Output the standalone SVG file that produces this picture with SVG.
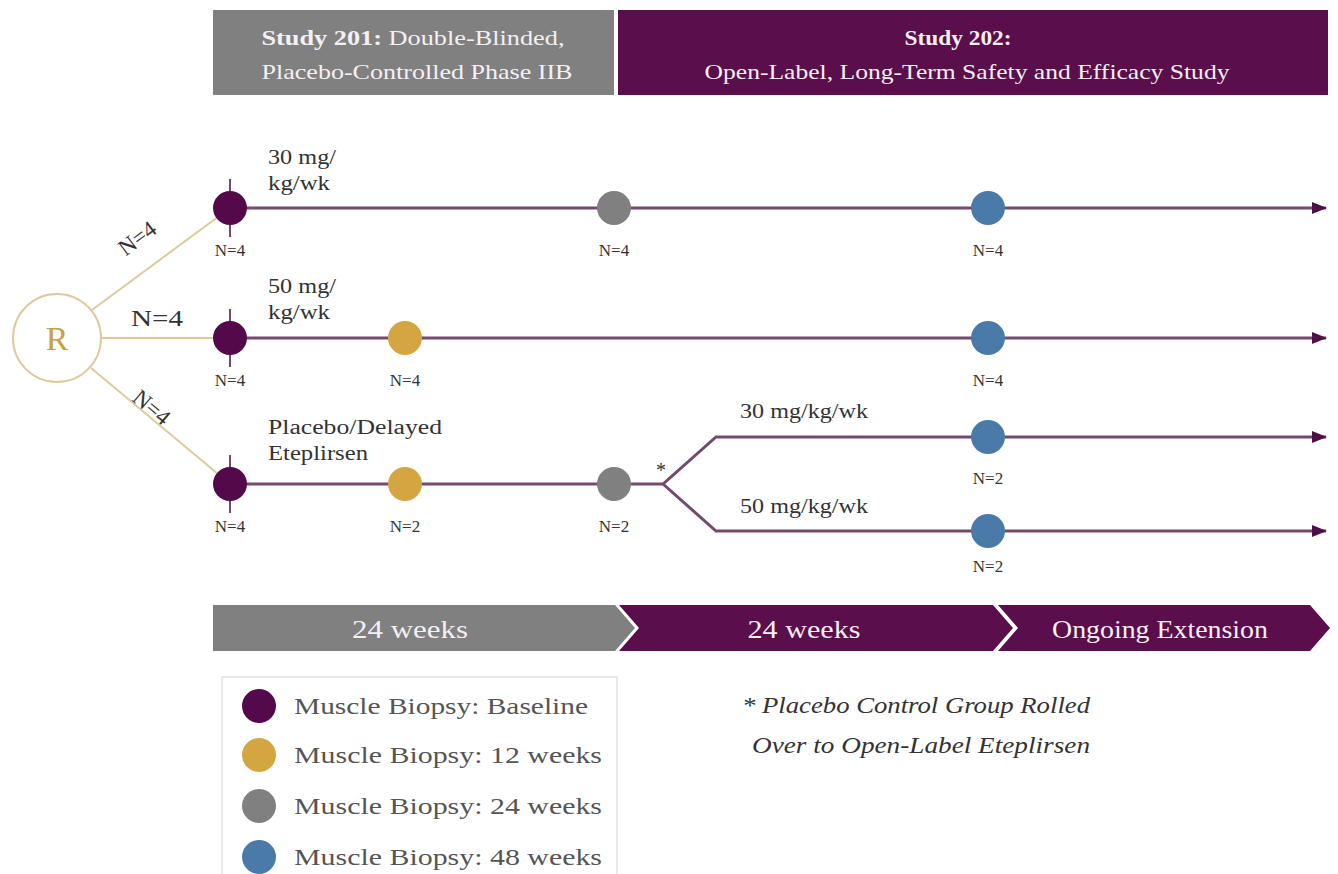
<svg xmlns="http://www.w3.org/2000/svg" width="1338" height="874" viewBox="0 0 1338 874">
<defs>
<marker id="arr" markerUnits="userSpaceOnUse" markerWidth="16" markerHeight="14" refX="14" refY="7" orient="auto">
<path d="M0,1 L15,7 L0,13 Z" fill="#4e1045"/>
</marker>
<style>
text{font-family:"Liberation Serif","Times New Roman",serif;}
.hdr{fill:#f4f0f4;font-size:22px;text-anchor:middle;}
.nl{fill:#333;font-size:17px;text-anchor:middle;}
.lbl{fill:#333;font-size:20px;}
.dn{fill:#333;font-size:23px;text-anchor:middle;}
.tl{fill:none;stroke:#74496e;stroke-width:3;}
.gold{stroke:#dccb9f;stroke-width:2;fill:none;}
.tick{stroke:#74496e;stroke-width:2;}
.base{fill:#54094a;}
.w12{fill:#d4a642;}
.w24{fill:#808080;}
.w48{fill:#4a7aa8;}
.ban{fill:#f5eef5;font-size:25px;text-anchor:middle;}
.leg{fill:#555;font-size:24px;}
.fn{fill:#333;font-size:23px;font-style:italic;}
</style>
</defs>
<rect width="1338" height="874" fill="#ffffff"/>

<g id="header201">
<rect x="213" y="10" width="401" height="85" fill="#808080"/>
<text class="hdr" x="413" y="45" textLength="303" lengthAdjust="spacingAndGlyphs"><tspan font-weight="bold">Study 201:</tspan> Double-Blinded,</text>
<text class="hdr" x="417" y="79" textLength="311" lengthAdjust="spacingAndGlyphs">Placebo-Controlled Phase IIB</text>
</g>
<g id="header202">
<rect x="618" y="10" width="710" height="85" fill="#5a0e4b"/>
<text class="hdr" x="958" y="45" font-weight="bold" textLength="107" lengthAdjust="spacingAndGlyphs">Study 202:</text>
<text class="hdr" x="967" y="79" textLength="525" lengthAdjust="spacingAndGlyphs">Open-Label, Long-Term Safety and Efficacy Study</text>
</g>

<g id="connectors">
<line class="gold" x1="92" y1="310" x2="230" y2="208"/>
<line class="gold" x1="102" y1="338" x2="230" y2="338"/>
<line class="gold" x1="91" y1="368" x2="230" y2="484"/>
<line class="tl" x1="230" y1="208" x2="1326" y2="208" marker-end="url(#arr)"/>
<line class="tl" x1="230" y1="338" x2="1326" y2="338" marker-end="url(#arr)"/>
<path class="tl" d="M230,484 H663 L716,437 H1326" marker-end="url(#arr)"/>
<path class="tl" d="M663,484 L716,531 H1326" marker-end="url(#arr)"/>
<text class="dn" x="137" y="246" transform="rotate(-37 137 238)">N=4</text>
<text class="dn" x="157" y="326" textLength="52" lengthAdjust="spacingAndGlyphs">N=4</text>
<text class="dn" x="152" y="415" transform="rotate(40 152 407)">N=4</text>
<text class="lbl" x="268" y="164" textLength="68" lengthAdjust="spacingAndGlyphs">30 mg/</text>
<text class="lbl" x="268" y="190" textLength="62" lengthAdjust="spacingAndGlyphs">kg/wk</text>
<text class="lbl" x="268" y="293" textLength="68" lengthAdjust="spacingAndGlyphs">50 mg/</text>
<text class="lbl" x="268" y="319" textLength="62" lengthAdjust="spacingAndGlyphs">kg/wk</text>
<text class="lbl" x="268" y="434" textLength="174" lengthAdjust="spacingAndGlyphs">Placebo/Delayed</text>
<text class="lbl" x="268" y="460" textLength="100" lengthAdjust="spacingAndGlyphs">Eteplirsen</text>
<text class="lbl" x="740" y="418" textLength="128" lengthAdjust="spacingAndGlyphs">30 mg/kg/wk</text>
<text class="lbl" x="740" y="513" textLength="128" lengthAdjust="spacingAndGlyphs">50 mg/kg/wk</text>
<text class="lbl" x="656" y="477">*</text>
</g>

<g id="R">
<circle cx="57" cy="338" r="44" fill="#fff" stroke="#dccb9f" stroke-width="2"/>
<text x="57" y="350" font-size="34" fill="#c9a04a" text-anchor="middle">R</text>
</g>

<g id="row1">
<line class="tick" x1="230" y1="179" x2="230" y2="237"/>
<circle class="base" cx="230" cy="208" r="17"/>
<text class="nl" x="230" y="256">N=4</text>
<circle class="w24" cx="614" cy="208" r="17"/>
<text class="nl" x="614" y="256">N=4</text>
<circle class="w48" cx="988" cy="208" r="17"/>
<text class="nl" x="988" y="256">N=4</text>
</g>
<g id="row2">
<line class="tick" x1="230" y1="309" x2="230" y2="367"/>
<circle class="base" cx="230" cy="338" r="17"/>
<text class="nl" x="230" y="386">N=4</text>
<circle class="w12" cx="405" cy="338" r="17"/>
<text class="nl" x="405" y="386">N=4</text>
<circle class="w48" cx="988" cy="338" r="17"/>
<text class="nl" x="988" y="386">N=4</text>
</g>
<g id="row3">
<line class="tick" x1="230" y1="455" x2="230" y2="513"/>
<circle class="base" cx="230" cy="484" r="17"/>
<text class="nl" x="230" y="532">N=4</text>
<circle class="w12" cx="405" cy="484" r="17"/>
<text class="nl" x="405" y="532">N=2</text>
<circle class="w24" cx="614" cy="484" r="17"/>
<text class="nl" x="614" y="532">N=2</text>
<circle class="w48" cx="988" cy="437" r="17"/>
<text class="nl" x="988" y="484">N=2</text>
<circle class="w48" cx="988" cy="531" r="17"/>
<text class="nl" x="988" y="572">N=2</text>
</g>

<g id="banner">
<path d="M213,605 H615 L635,628 L615,651 H213 Z" fill="#808080"/>
<path d="M619,605 H993 L1013,628 L993,651 H619 L639,628 Z" fill="#5a0e4b"/>
<path d="M998,605 H1310 L1330,628 L1310,651 H998 L1018,628 Z" fill="#5a0e4b"/>
<text class="ban" x="410" y="638" textLength="116" lengthAdjust="spacingAndGlyphs">24  weeks</text>
<text class="ban" x="804" y="638" textLength="113" lengthAdjust="spacingAndGlyphs">24 weeks</text>
<text class="ban" x="1160" y="638" textLength="216" lengthAdjust="spacingAndGlyphs">Ongoing  Extension</text>
</g>

<g id="legend">
<rect x="222" y="677" width="395" height="205" fill="#fff" stroke="#e2e2e2" stroke-width="1.5"/>
<circle class="base" cx="259" cy="706" r="17"/>
<text class="leg" x="294" y="714" textLength="294" lengthAdjust="spacingAndGlyphs">Muscle  Biopsy:  Baseline</text>
<circle class="w12" cx="259" cy="755" r="17"/>
<text class="leg" x="294" y="763" textLength="308" lengthAdjust="spacingAndGlyphs">Muscle  Biopsy:  12 weeks</text>
<circle class="w24" cx="259" cy="806" r="17"/>
<text class="leg" x="294" y="814" textLength="308" lengthAdjust="spacingAndGlyphs">Muscle  Biopsy:  24 weeks</text>
<circle class="w48" cx="259" cy="857" r="17"/>
<text class="leg" x="294" y="865" textLength="308" lengthAdjust="spacingAndGlyphs">Muscle  Biopsy:  48 weeks</text>
</g>

<g id="footnote">
<text class="fn" x="742" y="713" textLength="348" lengthAdjust="spacingAndGlyphs">* Placebo Control Group Rolled</text>
<text class="fn" x="752" y="753" textLength="338" lengthAdjust="spacingAndGlyphs">Over to Open-Label Eteplirsen</text>
</g>
</svg>
